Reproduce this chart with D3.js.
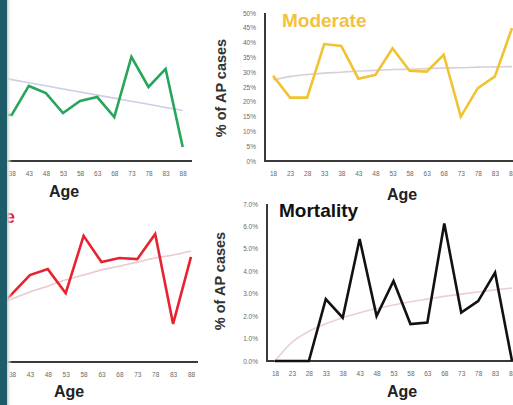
<!DOCTYPE html>
<html>
<head>
<meta charset="utf-8">
<script src="https://cdn.jsdelivr.net/npm/d3@7"></script>
<style>
  html, body { margin: 0; padding: 0; background: #fff; }
  svg { display: block; font-family: "Liberation Sans", Arial, sans-serif; }
</style>
</head>
<body>
<svg id="chart" width="513" height="405"></svg>
<script>
// ---------- DATA ----------
const ages = [18, 23, 28, 33, 38, 43, 48, 53, 58, 63, 68, 73, 78, 83, 88];
const ageLabels = ages.map(String);

// Mild (green, partially visible) – ages 33..88
const mildAges = [33, 38, 43, 48, 53, 58, 63, 68, 73, 78, 83, 88];
const mildValues = [31.5, 31.1, 50.7, 45.9, 32.4, 40.5, 43.2, 29.7, 70.3, 50.0, 62.2, 9.5];
const mildTrend = [57.1, 55.0, 52.9, 50.8, 48.7, 46.6, 44.5, 42.5, 40.4, 38.3, 36.2, 34.1];

// Moderate (yellow)
const moderateValues = [28.8, 21.4, 21.4, 39.5, 38.9, 27.8, 29.1, 38.1, 30.5, 30.2, 35.9, 15.0, 24.6, 28.6, 44.9];
const moderateTrend = [27.4, 28.5, 29.2, 29.7, 30.0, 30.4, 30.6, 30.9, 31.0, 31.2, 31.4, 31.5, 31.7, 31.8, 31.9];
const moderateTicks = [0, 5, 10, 15, 20, 25, 30, 35, 40, 45, 50];

// Severe (red, partially visible) – ages 33..88
const severeAges = [33, 38, 43, 48, 53, 58, 63, 68, 73, 78, 83, 88];
const severeValues = [13.5, 18.4, 23.5, 25.1, 18.6, 34.1, 27.0, 28.1, 27.8, 34.6, 10.3, 28.4];
const severeTrend = [14.8, 17.0, 18.9, 20.5, 22.2, 23.5, 24.9, 25.9, 27.0, 28.1, 28.9, 30.0];

// Mortality (black)
const mortalityValues = [0, 0, 0, 2.76, 1.93, 5.44, 2.0, 3.57, 1.65, 1.72, 6.13, 2.16, 2.67, 3.94, 0];
const mortalityTrend = [0, 0.83, 1.32, 1.66, 1.93, 2.15, 2.34, 2.5, 2.64, 2.76, 2.88, 2.98, 3.08, 3.17, 3.25];
const mortalityTicks = [0, 1, 2, 3, 4, 5, 6, 7];

// ---------- DRAW ----------
const svg = d3.select("#chart");

function panel(cfg) {
  const g = svg.append("g");
  const x = d3.scalePoint().domain(ages).range(cfg.xr).padding(0);
  const y = d3.scaleLinear().domain(cfg.yd).range(cfg.yr);
  const axisX = cfg.axisX;

  // y tick labels
  if (cfg.ticks) {
    const ya = d3.axisLeft(y).tickValues(cfg.ticks).tickSize(0).tickPadding(0)
      .tickFormat(cfg.fmt);
    const ag = g.append("g").attr("transform", `translate(${axisX - 9},0)`).call(ya);
    ag.select(".domain").remove();
    ag.selectAll("text").attr("font-size", 6.5).attr("fill", "#6a6a6a")
      .attr("font-family", "Liberation Sans, Arial, sans-serif");
  }
  // x tick labels (only those that fall on the visible page)
  const visibleAges = ages.filter(a => x(a) > 5);
  const xa = d3.axisBottom(x).tickValues(visibleAges).tickSize(0).tickPadding(0)
    .tickFormat(d => ageLabels[ages.indexOf(d)]);
  const xg = g.append("g").attr("transform", `translate(0,${cfg.yr[0] + 10})`).call(xa);
  xg.select(".domain").remove();
  xg.selectAll("text").attr("font-size", 6.5).attr("fill", "#6a6a6a")
    .attr("font-family", "Liberation Sans, Arial, sans-serif");

  // axis lines
  g.append("line").attr("x1", axisX).attr("x2", axisX)
    .attr("y1", cfg.yr[1]).attr("y2", cfg.yr[0] + 1)
    .attr("stroke", "#3a3a3a").attr("stroke-width", 2);
  g.append("line").attr("x1", axisX).attr("x2", cfg.xEnd)
    .attr("y1", cfg.yr[0]).attr("y2", cfg.yr[0])
    .attr("stroke", "#3a3a3a").attr("stroke-width", 2);

  // trend
  g.append("path").datum(d3.zip(cfg.ages, cfg.trend))
    .attr("d", d3.line().x(d => x(d[0])).y(d => y(d[1])).curve(d3.curveMonotoneX))
    .attr("fill", "none").attr("stroke", cfg.trendColor).attr("stroke-width", 1.6);
  // series
  g.append("path").datum(d3.zip(cfg.ages, cfg.values))
    .attr("d", d3.line().x(d => x(d[0])).y(d => y(d[1])))
    .attr("fill", "none").attr("stroke", cfg.color).attr("stroke-width", 2.6)
    .attr("stroke-linejoin", "miter");

  // y axis title
  if (cfg.yTitle) {
    g.append("text")
      .attr("transform", `translate(${cfg.yTitle[0]},${cfg.yTitle[1]}) rotate(-90)`)
      .attr("text-anchor", "middle").attr("font-size", 14.5).attr("font-weight", "bold")
      .attr("fill", "#333").text("% of AP cases");
  }
  // x axis title
  g.append("text").attr("x", cfg.ageX).attr("y", cfg.ageY)
    .attr("text-anchor", "middle").attr("font-size", 16).attr("font-weight", "bold")
    .attr("fill", "#222").text("Age");
  // panel title
  if (cfg.title) {
    g.append("text").attr("x", cfg.title[0]).attr("y", cfg.title[1])
      .attr("text-anchor", cfg.title[2]).attr("font-size", 19).attr("font-weight", "bold")
      .attr("fill", cfg.titleColor).text(cfg.title[3]);
  }
}

// Mild (green)
panel({
  xr: [-56.7, 182.7], yd: [0, 100], yr: [161, 13], axisX: -66, xEnd: 192,
  ages: mildAges, values: mildValues, trend: mildTrend,
  color: "#27a65b", trendColor: "#cfcde6",
  ageX: 64, ageY: 197
});
// Moderate (yellow)
panel({
  xr: [273, 512], yd: [0, 50], yr: [161, 13], axisX: 265, xEnd: 525,
  ticks: moderateTicks, fmt: d => d + "%",
  ages: ages, values: moderateValues, trend: moderateTrend,
  color: "#f1c232", trendColor: "#d6d0dc",
  yTitle: [226, 88], ageX: 402, ageY: 200,
  title: [282, 27, "start", "Moderate"], titleColor: "#f4c13d"
});
// Severe (red)
panel({
  xr: [-59.6, 191], yd: [0, 40], yr: [362, 214], axisX: -69, xEnd: 198,
  ages: severeAges, values: severeValues, trend: severeTrend,
  color: "#e8232f", trendColor: "#ecc9cf",
  ageX: 69, ageY: 397,
  title: [15, 223, "end", "Severe"], titleColor: "#e8232f"
});
// Mortality (black)
panel({
  xr: [275, 512], yd: [0, 7], yr: [361, 204], axisX: 267, xEnd: 525,
  ticks: mortalityTicks, fmt: d => d.toFixed(1) + "%",
  ages: ages, values: mortalityValues, trend: mortalityTrend,
  color: "#111", trendColor: "#ead0d2",
  yTitle: [225, 281], ageX: 402, ageY: 397,
  title: [279, 217, "start", "Mortality"], titleColor: "#111"
});

// left slide edge
const defs = svg.append("defs");
const grad = defs.append("linearGradient").attr("id", "edge").attr("x1", 0).attr("x2", 1);
grad.append("stop").attr("offset", 0).attr("stop-color", "#c9cccd");
grad.append("stop").attr("offset", 1).attr("stop-color", "#ffffff").attr("stop-opacity", 0);
svg.append("rect").attr("x", 7).attr("y", 0).attr("width", 5).attr("height", 405).attr("fill", "url(#edge)");
svg.append("rect").attr("x", 0).attr("y", 0).attr("width", 7).attr("height", 405).attr("fill", "#1d5d69");
</script>
</body>
</html>
